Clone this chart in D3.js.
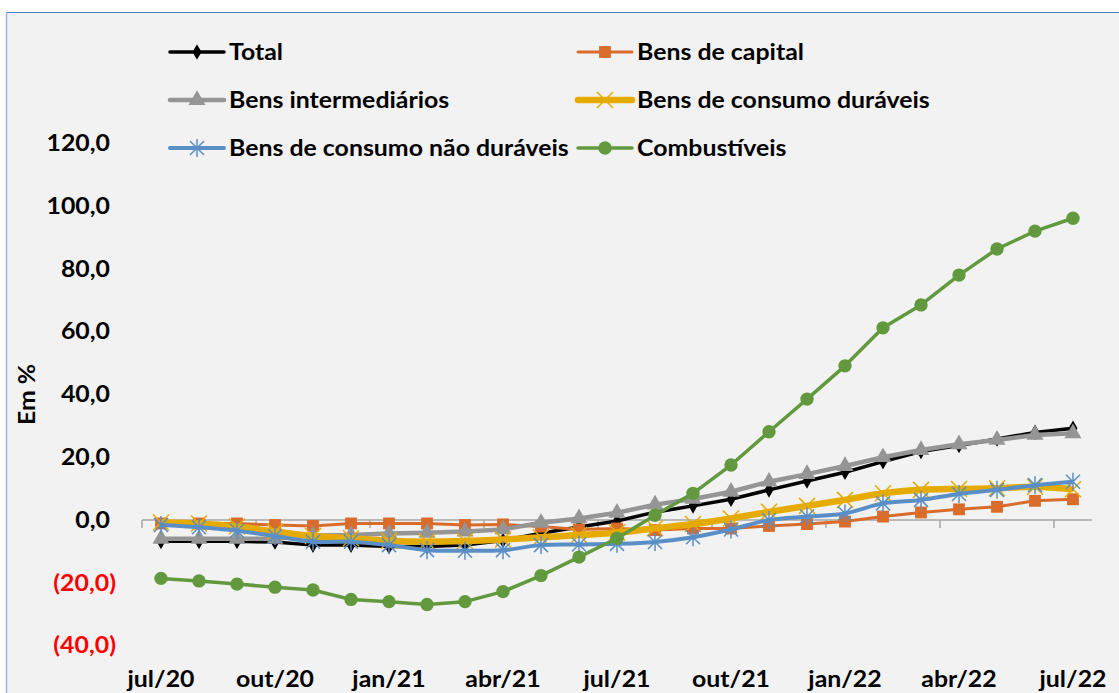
<!DOCTYPE html>
<html>
<head>
<meta charset="utf-8">
<script src="https://cdn.jsdelivr.net/npm/d3@7"></script>
<style>
  html, body { margin: 0; padding: 0; background: #ffffff; }
  svg { display: block; font-family: Lato, "Open Sans", sans-serif; font-weight: bold; }
</style>
</head>
<body>
<div id="wrapper"></div>
<script>
// Data: month labels and series values (% change)
const months = [
  "jul/20", "ago/20", "set/20", "out/20", "nov/20", "dez/20", "jan/21", "fev/21", "mar/21",
  "abr/21", "mai/21", "jun/21", "jul/21", "ago/21", "set/21", "out/21", "nov/21", "dez/21",
  "jan/22", "fev/22", "mar/22", "abr/22", "mai/22", "jun/22", "jul/22"
];

const total = [-6.8, -6.8, -6.8, -7.0, -8.0, -8.0, -8.4, -8.4, -8.0, -6.5, -4.2, -2.2, -0.3,
  2.5, 4.5, 6.6, 9.6, 12.4, 15.2, 18.6, 21.8, 23.7, 25.8, 27.9, 29.2];
const bensCapital = [-1.1, -1.1, -1.1, -1.6, -1.9, -1.1, -1.1, -1.1, -1.6, -1.4, -2.1, -3.0, -2.7,
  -3.2, -2.7, -2.7, -1.9, -1.3, -0.5, 1.1, 2.4, 3.4, 4.2, 6.1, 6.6];
const bensIntermediarios = [-6.0, -6.0, -6.0, -6.0, -4.9, -4.8, -4.3, -4.1, -3.7, -3.0, -0.9, 0.5, 2.3,
  4.9, 6.7, 9.0, 12.2, 14.6, 17.2, 20.0, 22.3, 24.1, 25.5, 27.1, 27.6];
const duraveis = [-0.8, -1.1, -2.1, -3.7, -5.1, -5.8, -6.6, -6.9, -6.7, -6.2, -5.5, -4.8, -4.0,
  -2.6, -1.3, 0.5, 2.6, 4.5, 6.4, 8.5, 9.6, 9.9, 10.1, 10.6, 9.8];
const naoDuraveis = [-1.6, -2.3, -3.4, -5.1, -6.9, -6.9, -8.0, -9.6, -9.8, -9.6, -8.0, -7.8, -7.6,
  -7.0, -5.5, -3.0, 0.0, 1.1, 2.1, 5.3, 6.4, 8.3, 9.6, 11.1, 12.2];
const combustiveis = [-18.6, -19.4, -20.4, -21.4, -22.3, -25.3, -26.0, -26.9, -26.0, -22.8, -17.7, -11.8, -5.8,
  1.5, 8.5, 17.5, 28.1, 38.5, 49.1, 61.2, 68.5, 78.0, 86.3, 92.0, 96.1];

const yTicks = [-40, -20, 0, 20, 40, 60, 80, 100, 120];
const xTickLabels = ["jul/20", "out/20", "jan/21", "abr/21", "jul/21", "out/21", "jan/22", "abr/22", "jul/22"];

const seriesNames = [
  "Total", "Bens de capital", "Bens intermediários",
  "Bens de consumo duráveis", "Bens de consumo não duráveis", "Combustíveis"
];

async function drawProductionChart() {
  // 1. Series setup
  const series = [
    { name: seriesNames[0], values: total, color: "#000000", width: 3.5, marker: "diamond", curve: d3.curveLinear },
    { name: seriesNames[1], values: bensCapital, color: "#d96c2b", width: 3, marker: "square", curve: d3.curveLinear },
    { name: seriesNames[2], values: bensIntermediarios, color: "#959595", width: 4.5, marker: "triangle", curve: d3.curveLinear },
    { name: seriesNames[3], values: duraveis, color: "#e5ab00", width: 6.5, marker: "x", curve: d3.curveCatmullRom },
    { name: seriesNames[4], values: naoDuraveis, color: "#5a8ec7", width: 4, marker: "star", curve: d3.curveCatmullRom },
    { name: seriesNames[5], values: combustiveis, color: "#62993e", width: 3.5, marker: "circle", curve: d3.curveLinear },
  ];

  // 2. Dimensions
  const dimensions = {
    width: 1119,
    height: 693,
    plotLeft: 142,
    plotRight: 1092,
    fontSize: 22,
    stretch: 1.13, // the reference text is a bit wider than Lato
  };

  // 3. Canvas
  const wrapper = d3.select("#wrapper")
    .append("svg")
    .attr("width", dimensions.width)
    .attr("height", dimensions.height);

  wrapper.append("rect")
    .attr("x", 6)
    .attr("y", 12)
    .attr("width", dimensions.width)
    .attr("height", dimensions.height)
    .attr("fill", "#f2f2f2");

  wrapper.append("line")
    .attr("x1", 6).attr("x2", dimensions.width)
    .attr("y1", 12.5).attr("y2", 12.5)
    .attr("stroke", "#4f81d0").attr("stroke-width", 1.2);
  wrapper.append("line")
    .attr("x1", 6.5).attr("x2", 6.5)
    .attr("y1", 12).attr("y2", dimensions.height)
    .attr("stroke", "#9ab6e4").attr("stroke-width", 1.5);

  // helper: place a text with horizontal stretch
  const place = (x, y, extra = "") => `translate(${x}, ${y}) ${extra} scale(${dimensions.stretch}, 1)`;

  // 4. Scales
  const xScale = d3.scaleBand()
    .domain(months)
    .range([dimensions.plotLeft, dimensions.plotRight]);
  const xCenter = m => xScale(m) + xScale.bandwidth() / 2;

  const yScale = d3.scaleLinear()
    .domain([-40, 120])
    .range([645.6, 143.2]);

  // 5. Y tick labels (Excel style: negatives red in parentheses)
  const fmt = d3.format(".1f");
  wrapper.append("g")
    .selectAll("text")
    .data(yTicks)
    .join("text")
    .attr("transform", d => place(d < 0 ? 116 : 110, yScale(d)))
    .attr("dy", "0.35em")
    .attr("text-anchor", "end")
    .attr("font-size", dimensions.fontSize)
    .attr("fill", d => d < 0 ? "#ff0000" : "#000000")
    .text(d => d < 0 ? `(${fmt(-d).replace(".", ",")})` : fmt(d).replace(".", ","));

  wrapper.append("text")
    .attr("transform", `translate(35, ${yScale(40)}) rotate(-90) scale(${dimensions.stretch}, 1)`)
    .attr("text-anchor", "middle")
    .attr("font-size", dimensions.fontSize)
    .text("Em %");

  // 6. X axis at zero
  const xAxis = wrapper.append("g").attr("class", "x-axis");
  xAxis.append("line")
    .attr("x1", dimensions.plotLeft).attr("x2", dimensions.plotRight)
    .attr("y1", yScale(0)).attr("y2", yScale(0))
    .attr("stroke", "#a6a6a6").attr("stroke-width", 1.5);
  xAxis.selectAll(".tick")
    .data(months.filter((m, i) => i % 3 === 0))
    .join("line")
    .attr("class", "tick")
    .attr("x1", d => xScale(d)).attr("x2", d => xScale(d))
    .attr("y1", yScale(0)).attr("y2", yScale(0) + 8)
    .attr("stroke", "#a6a6a6").attr("stroke-width", 1.5);

  wrapper.append("g")
    .selectAll("text")
    .data(xTickLabels)
    .join("text")
    .attr("transform", d => place(xCenter(d), 687))
    .attr("text-anchor", "middle")
    .attr("font-size", dimensions.fontSize)
    .text(d => d);

  // 7. Lines and markers
  const markerPath = (type) => {
    switch (type) {
      case "diamond": return d3.symbol(d3.symbolDiamond, 70)();
      case "square": return d3.symbol(d3.symbolSquare, 140)();
      case "triangle": return d3.symbol(d3.symbolTriangle, 125)();
      case "circle": return d3.symbol(d3.symbolCircle, 140)();
      case "x": return "M-8,-8L8,8M-8,8L8,-8";
      case "star": return "M0,-9L0,9M-7,-7L7,7M-7,7L7,-7";
    }
  };
  const strokeMarker = t => t === "x" || t === "star";

  const drawMarker = (sel, s) => {
    sel.attr("d", markerPath(s.marker))
      .attr("fill", strokeMarker(s.marker) ? "none" : s.color)
      .attr("stroke", strokeMarker(s.marker) ? s.color : "none")
      .attr("stroke-width", 1.5);
  };

  series.forEach(s => {
    const lineGenerator = d3.line()
      .x((d, i) => xCenter(months[i]))
      .y(d => yScale(d))
      .curve(s.curve);

    const g = wrapper.append("g").attr("class", "series");
    g.append("path")
      .attr("d", lineGenerator(s.values))
      .attr("fill", "none")
      .attr("stroke", s.color)
      .attr("stroke-width", s.width)
      .attr("stroke-linejoin", "round");

    g.selectAll(".marker")
      .data(s.values)
      .join("path")
      .attr("class", "marker")
      .attr("transform", (d, i) => `translate(${xCenter(months[i])}, ${yScale(d)})`)
      .call(drawMarker, s);
  });

  // 8. Legend (3 rows x 2 columns)
  const legendCols = [170, 578];
  const legendRows = [52, 100, 148];
  series.forEach((s, i) => {
    const x = legendCols[i % 2];
    const y = legendRows[Math.floor(i / 2)];
    const item = wrapper.append("g").attr("transform", `translate(${x}, ${y})`);
    item.append("line")
      .attr("x1", 0).attr("x2", 54)
      .attr("stroke", s.color)
      .attr("stroke-width", s.width)
      .attr("stroke-linecap", "round");
    item.append("path")
      .attr("transform", "translate(27, 0)")
      .call(drawMarker, s);
    item.append("text")
      .attr("transform", place(59, 0))
      .attr("dy", "0.35em")
      .attr("font-size", dimensions.fontSize)
      .text(s.name);
  });
}

drawProductionChart();
</script>
</body>
</html>
